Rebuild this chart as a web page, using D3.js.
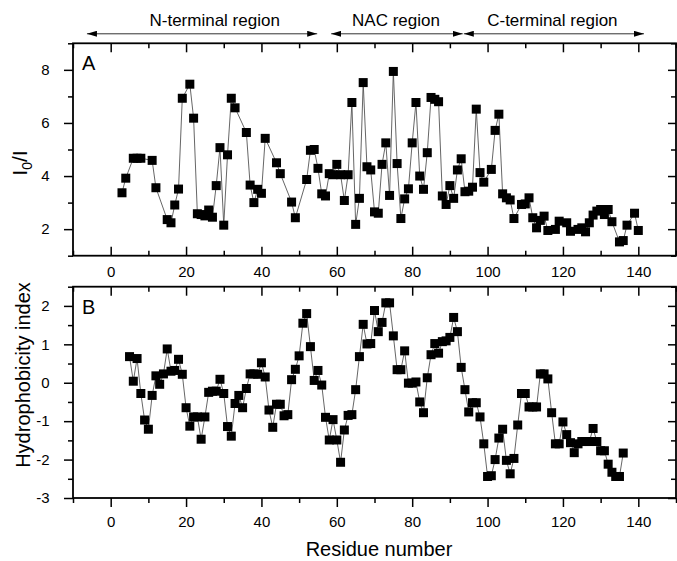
<!DOCTYPE html>
<html>
<head>
<meta charset="utf-8">
<script src="https://cdn.jsdelivr.net/npm/d3@7"></script>
<style>
body { margin: 0; background: #fff; }
svg { font-family: "Liberation Sans", Arial, sans-serif; }
.axis path.domain { display: none; }
.axis line { stroke: #000; stroke-width: 1.5px; }
.axis text { font-size: 15px; fill: #000; font-family: "Liberation Sans", Arial, sans-serif; }
</style>
</head>
<body>
<svg width="677" height="561"></svg>
<script>
// panel A: I0/I per residue
const residuesA = [3, 4, 6, 7, 8, 11, 12, 15, 16, 17, 18, 19, 21, 22, 23, 24, 25, 26, 27, 28, 29, 30,
    31, 32, 33, 36, 37, 38, 39, 40, 41, 44, 45, 48, 49, 52, 53, 54, 55, 56, 57, 58, 59, 60,
    61, 62, 63, 64, 65, 66, 67, 68, 69, 70, 71, 72, 73, 74, 75, 76, 77, 78, 79, 80, 81, 82,
    83, 84, 85, 86, 87, 88, 89, 90, 91, 92, 93, 94, 95, 96, 97, 98, 99, 101, 102, 103, 104,
    105, 106, 107, 109, 110, 111, 112, 113, 114, 115, 116, 118, 119, 121, 122, 124, 125, 126,
    127, 128, 129, 130, 131, 132, 133, 135, 136, 137, 139, 140];
const ratioA = [3.37, 3.92, 4.67, 4.67, 4.67, 4.59, 3.56, 2.36, 2.24, 2.91, 3.51, 6.93, 7.46, 6.18,
    2.58, 2.55, 2.50, 2.72, 2.45, 3.64, 5.07, 2.15, 4.80, 6.93, 6.57, 5.64, 3.66, 3.00, 3.50, 3.35,
    5.42, 4.50, 4.09, 3.02, 2.43, 3.87, 4.97, 5.00, 4.29, 3.33, 3.25, 4.09, 4.05, 4.44, 4.05, 3.08,
    4.05, 6.77, 2.18, 3.16, 7.52, 4.35, 4.23, 2.65, 2.60, 4.44, 5.25, 3.27, 7.94, 4.47, 2.40, 3.14,
    3.52, 5.25, 6.77, 4.00, 3.50, 4.88, 6.96, 6.89, 6.80, 3.25, 2.93, 3.64, 3.16, 4.23, 4.65, 3.41,
    3.43, 3.58, 6.52, 4.13, 3.77, 4.25, 5.72, 6.33, 3.33, 3.18, 3.10, 2.40, 2.93, 2.95, 3.18, 2.43,
    2.05, 2.33, 2.49, 1.95, 1.99, 2.30, 2.24, 1.92, 1.99, 2.05, 1.90, 2.24, 2.53, 2.68, 2.74, 2.55,
    2.74, 2.28, 1.52, 1.57, 2.15, 2.60, 1.95];

// panel B: hydrophobicity index per residue
const residuesB = [5, 6, 7, 8, 9, 10, 11, 12, 13, 14, 15, 16, 17, 18, 19, 20, 21, 22, 23, 24, 25,
    26, 27, 28, 29, 30, 31, 32, 33, 34, 35, 36, 37, 38, 39, 40, 41, 42, 43, 44, 45, 46, 47, 48,
    49, 50, 51, 52, 53, 54, 55, 56, 57, 58, 59, 60, 61, 62, 63, 64, 65, 66, 67, 68, 69, 70, 71,
    72, 73, 74, 75, 76, 77, 78, 79, 80, 81, 82, 83, 84, 85, 86, 87, 88, 89, 90, 91, 92, 93, 94,
    95, 96, 97, 98, 99, 100, 101, 102, 103, 104, 105, 106, 107, 108, 109, 110, 111, 112, 113,
    114, 115, 116, 117, 118, 119, 120, 121, 122, 123, 124, 125, 126, 127, 128, 129, 130, 131,
    132, 133, 134, 135, 136];
const hydroB = [0.68, 0.04, 0.63, -0.28, -0.97, -1.21, -0.33, 0.18, -0.04, 0.23, 0.88, 0.30, 0.32,
    0.61, 0.22, -0.65, -1.13, -0.89, -0.89, -1.47, -0.89, -0.25, -0.22, -0.22, 0.09, -0.28, -1.14,
    -1.39, -0.54, -0.33, -0.65, -0.15, 0.23, 0.23, 0.22, 0.52, 0.15, -0.71, -1.16, -0.56, -0.56,
    -0.86, -0.83, 0.08, 0.35, 0.70, 1.55, 1.80, 0.94, 0.06, 0.32, -0.06, -0.90, -1.49, -0.96, -1.49,
    -2.07, -1.23, -0.85, -0.83, -0.18, 0.68, 1.52, 1.01, 1.02, 1.88, 1.33, 1.57, 2.08, 2.08, 1.22,
    0.34, 0.34, 0.83, -0.01, -0.01, 0.02, -0.50, -0.78, 0.13, 0.73, 1.02, 0.77, 1.07, 1.09, 1.18,
    1.70, 1.33, 0.40, -0.18, -0.76, -0.52, -0.52, -0.89, -1.59, -2.44, -2.42, -2.00, -1.44, -1.21,
    -2.02, -2.37, -1.97, -1.10, -0.28, -0.28, -0.63, -0.63, -0.63, 0.23, 0.23, 0.10, -0.78, -1.59,
    -1.59, -1.02, -1.35, -1.56, -1.82, -1.59, -1.53, -1.53, -1.53, -1.19, -1.53, -1.77, -1.77,
    -2.12, -2.33, -2.44, -2.44, -1.83];

// region arrows (residue units)
const regionNames = ["N-terminal region", "NAC region", "C-terminal region"];
const regionFrom = [-6.3, 58.5, 93.7];
const regionTo = [54.8, 93.4, 141.5];
const regionLabelAt = [27.6, 75.7, 117.2];

const xMajor = [0, 20, 40, 60, 80, 100, 120, 140];
const xMinor = [-10, 10, 30, 50, 70, 90, 110, 130, 150];
const yMajorA = [2, 4, 6, 8];
const yMinorA = [1, 3, 5, 7, 9];
const yMajorB = [-3, -2, -1, 0, 1, 2];
const yMinorB = [-2.5, -1.5, -0.5, 0.5, 1.5, 2.5];

const svg = d3.select("svg"),
    left = 73, right = 676;

const x = d3.scaleLinear().domain([-10, 150]).range([left, right]);
const yA = d3.scaleLinear().domain([1, 9]).range([255.7, 43.3]);
const yB = d3.scaleLinear().domain([-3, 2.5]).range([498, 286.7]);

function drawPanel(y, xs, vs, majorY, minorY, outsideBottom, letter) {
    const top = y.range()[1], bottom = y.range()[0];

    // bottom axis
    svg.append("g")
        .attr("class", "axis")
        .attr("transform", `translate(0,${bottom})`)
        .call(d3.axisBottom(x).tickValues(xMajor)
            .tickSize(outsideBottom ? 9 : -9)
            .tickPadding(outsideBottom ? 9.5 : 11)
            .tickFormat(d3.format("d")));
    svg.append("g")
        .attr("class", "axis")
        .attr("transform", `translate(0,${bottom})`)
        .call(d3.axisBottom(x).tickValues(xMinor).tickSize(outsideBottom ? 5 : -5).tickFormat(""));

    // top axis (inward)
    svg.append("g")
        .attr("class", "axis")
        .attr("transform", `translate(0,${top})`)
        .call(d3.axisTop(x).tickValues(xMajor).tickSize(-9).tickFormat(""));
    svg.append("g")
        .attr("class", "axis")
        .attr("transform", `translate(0,${top})`)
        .call(d3.axisTop(x).tickValues(xMinor).tickSize(-5).tickFormat(""));

    // left axis (outward)
    svg.append("g")
        .attr("class", "axis")
        .attr("transform", `translate(${left},0)`)
        .call(d3.axisLeft(y).tickValues(majorY).tickSize(9).tickPadding(14.5).tickFormat(d => String(d)));
    svg.append("g")
        .attr("class", "axis")
        .attr("transform", `translate(${left},0)`)
        .call(d3.axisLeft(y).tickValues(minorY).tickSize(5).tickFormat(""));

    // right axis (inward)
    svg.append("g")
        .attr("class", "axis")
        .attr("transform", `translate(${right},0)`)
        .call(d3.axisRight(y).tickValues(majorY).tickSize(-8).tickFormat(""));
    svg.append("g")
        .attr("class", "axis")
        .attr("transform", `translate(${right},0)`)
        .call(d3.axisRight(y).tickValues(minorY).tickSize(-5).tickFormat(""));

    // frame
    svg.append("rect")
        .attr("x", left)
        .attr("y", top)
        .attr("width", right - left)
        .attr("height", bottom - top)
        .attr("fill", "none")
        .attr("stroke", "#000")
        .attr("stroke-width", 1.8);

    const pts = xs.map((r, i) => [r, vs[i]]);

    svg.append("path")
        .datum(pts)
        .attr("fill", "none")
        .attr("stroke", "#555")
        .attr("stroke-width", 0.9)
        .attr("d", d3.line().x(d => x(d[0])).y(d => y(d[1])));

    svg.selectAll(null)
        .data(pts)
        .enter().append("rect")
        .attr("x", d => x(d[0]) - 4.5)
        .attr("y", d => y(d[1]) - 4.5)
        .attr("width", 9)
        .attr("height", 9)
        .attr("fill", "#000");

    svg.append("text")
        .attr("x", left + 9)
        .attr("y", top + 27)
        .style("font-size", "20px")
        .text(letter);
}

drawPanel(yA, residuesA, ratioA, yMajorA, yMinorA, false, "A");
drawPanel(yB, residuesB, hydroB, yMajorB, yMinorB, true, "B");

// arrowheads
const defs = svg.append("defs");
["start", "end"].forEach(k => {
    defs.append("marker")
        .attr("id", "arrow-" + k)
        .attr("viewBox", "0 0 10 6")
        .attr("refX", k === "end" ? 10 : 0)
        .attr("refY", 3)
        .attr("markerWidth", 10)
        .attr("markerHeight", 6)
        .attr("markerUnits", "userSpaceOnUse")
        .attr("orient", "auto")
      .append("path")
        .attr("d", k === "end" ? "M0,0L10,3L0,6Z" : "M10,0L0,3L10,6Z")
        .attr("fill", "#000");
});

regionNames.forEach((name, i) => {
    svg.append("line")
        .attr("x1", x(regionFrom[i]))
        .attr("x2", x(regionTo[i]))
        .attr("y1", 33.8)
        .attr("y2", 33.8)
        .attr("stroke", "#333")
        .attr("stroke-width", 1)
        .attr("marker-start", "url(#arrow-start)")
        .attr("marker-end", "url(#arrow-end)");
    svg.append("text")
        .attr("x", x(regionLabelAt[i]))
        .attr("y", 26)
        .attr("text-anchor", "middle")
        .style("font-size", "17px")
        .text(name);
});

// axis titles
svg.append("text")
    .attr("x", 379)
    .attr("y", 556)
    .attr("text-anchor", "middle")
    .style("font-size", "20px")
    .text("Residue number");

const yTitleA = svg.append("text")
    .attr("transform", "translate(27,163) rotate(-90)")
    .attr("text-anchor", "middle")
    .style("font-size", "21px");
yTitleA.append("tspan").text("I");
yTitleA.append("tspan").attr("dy", 5).style("font-size", "14px").text("0");
yTitleA.append("tspan").attr("dy", -5).text("/I");

svg.append("text")
    .attr("transform", "translate(30,375) rotate(-90)")
    .attr("text-anchor", "middle")
    .style("font-size", "20px")
    .text("Hydrophobicity index");
</script>
</body>
</html>
